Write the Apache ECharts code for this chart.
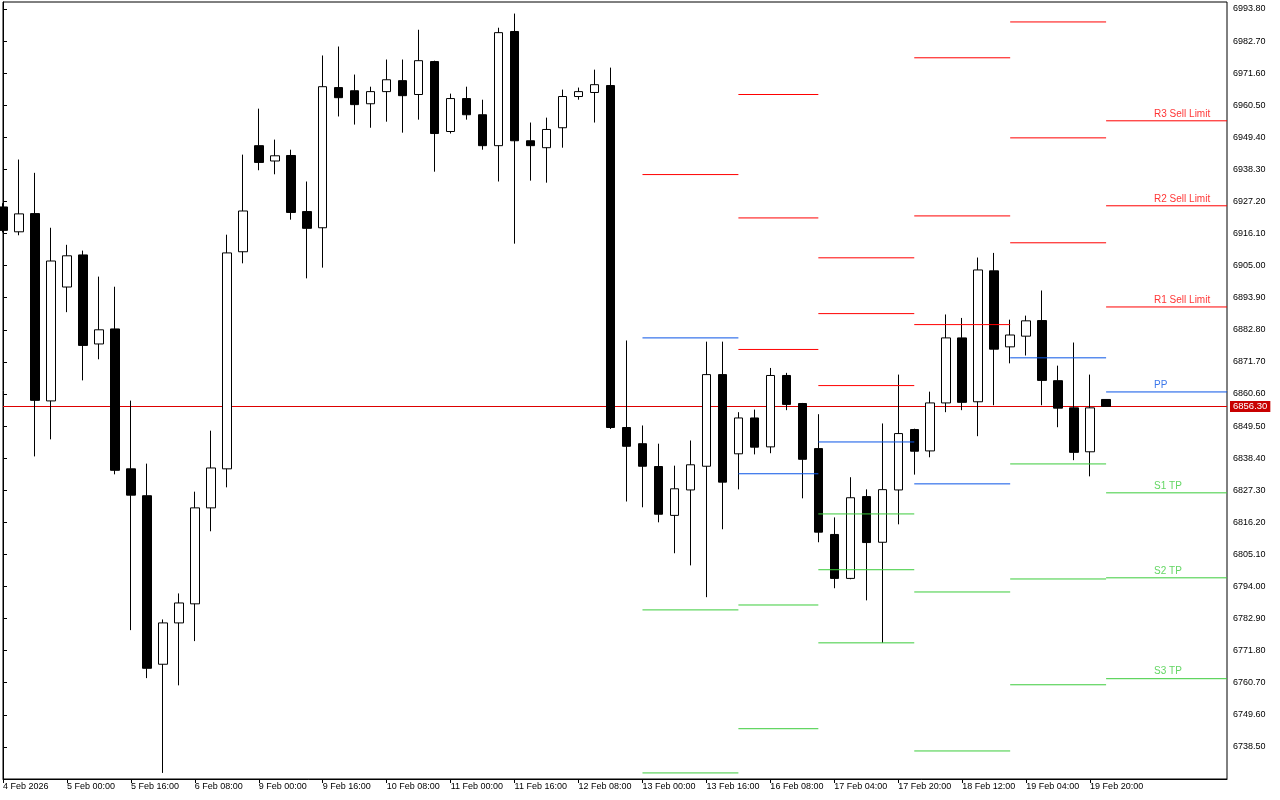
<!DOCTYPE html>
<html><head><meta charset="utf-8">
<script src="https://cdn.jsdelivr.net/npm/echarts@6/dist/echarts.min.js"></script>
<style>html,body{margin:0;padding:0;background:#fff}#c{width:1280px;height:800px}</style>
</head><body><div id="c"></div>
<script>
// H4 candles, 4 Feb 2026 08:00 .. 20 Feb 2026 00:00
const open = [6925.3,6916.7,6923.0,6858.2,6897.6,6908.7,6877.9,6883.1,6834.7,6825.4,
6767.1,6781.4,6788.0,6821.2,6834.7,6909.8,6946.5,6941.2,6943.1,6923.7,
6918.1,6966.6,6965.5,6961.0,6965.2,6969.0,6964.2,6975.6,6951.4,6962.8,
6957.2,6946.5,6986.0,6948.2,6945.8,6952.7,6963.5,6964.9,6967.3,6849.0,
6843.4,6835.5,6818.6,6827.4,6835.6,6867.3,6839.9,6852.3,6842.3,6867.0,
6857.3,6841.7,6812.0,6796.8,6825.1,6809.3,6827.4,6848.3,6840.9,6857.5,
6880.0,6857.9,6903.2,6876.9,6880.6,6886.0,6865.2,6855.8,6840.6,6858.7];
const high = [6926.6,6941.7,6937.1,6918.1,6912.2,6910.2,6901.2,6897.7,6858.3,6836.5,
6782.6,6791.6,6826.8,6847.9,6915.7,6943.4,6959.3,6948.6,6945.1,6934.1,
6977.7,6980.8,6971.1,6966.9,6976.3,6976.3,6986.6,6975.9,6964.5,6966.9,
6962.4,6987.3,6992.2,6954.5,6956.2,6965.9,6966.6,6972.8,6973.5,6879.1,
6849.7,6843.4,6835.8,6844.5,6878.7,6878.7,6854.3,6855.2,6869.6,6867.9,
6857.5,6853.6,6817.9,6831.8,6827.6,6850.4,6867.3,6848.6,6861.4,6888.1,
6886.9,6907.8,6909.4,6886.3,6887.7,6896.4,6870.4,6878.4,6867.3,6858.7];
const low = [6916.5,6915.5,6839.0,6844.9,6888.9,6865.3,6872.6,6832.8,6778.9,6762.3,
6729.5,6759.8,6775.1,6813.1,6828.3,6905.8,6938.0,6936.6,6920.9,6900.6,
6904.3,6956.6,6953.8,6952.7,6954.8,6951.0,6955.5,6937.5,6950.7,6955.5,
6945.1,6934.1,6912.6,6934.4,6933.7,6945.8,6962.4,6954.5,6848.5,6823.4,
6821.4,6816.2,6805.5,6801.3,6790.3,6813.8,6827.6,6839.7,6840.1,6855.0,
6824.5,6809.3,6793.4,6796.5,6789.2,6774.5,6815.5,6832.7,6838.7,6854.3,
6855.0,6846.0,6856.7,6871.2,6873.9,6856.7,6849.1,6837.7,6832.1,6856.3];
const close = [6917.2,6922.9,6858.4,6906.6,6908.4,6877.4,6882.8,6834.2,6825.6,6765.7,
6781.4,6788.3,6821.2,6835.0,6909.4,6923.9,6940.7,6943.0,6923.4,6917.9,
6966.9,6963.1,6960.7,6965.2,6969.3,6963.8,6975.9,6950.7,6962.8,6957.2,
6946.5,6985.6,6948.2,6946.5,6952.1,6963.5,6965.2,6967.6,6849.0,6842.5,
6835.6,6819.0,6827.8,6836.1,6867.3,6830.1,6852.3,6842.2,6867.0,6857.0,
6838.0,6812.8,6796.8,6824.7,6809.2,6827.5,6846.9,6840.8,6857.5,6880.0,
6857.7,6903.5,6876.1,6881.0,6885.9,6865.3,6855.7,6840.4,6855.8,6856.3];
const lastPrice = 6856.30;

// time axis tick labels (every 4th candle)
const xTickIdx = [0,4,8,12,16,20,24,28,32,36,40,44,48,52,56,60,64,68];
const xTickLabels = ['4 Feb 2026','5 Feb 00:00','5 Feb 16:00','6 Feb 08:00','9 Feb 00:00','9 Feb 16:00',
  '10 Feb 08:00','11 Feb 00:00','11 Feb 16:00','12 Feb 08:00','13 Feb 00:00','13 Feb 16:00',
  '16 Feb 08:00','17 Feb 04:00','17 Feb 20:00','18 Feb 12:00','19 Feb 04:00','19 Feb 20:00'];
const yTickValues = [6738.5,6749.6,6760.7,6771.8,6782.9,6794.0,6805.1,6816.2,6827.3,6838.4,6849.5,6860.6,
  6871.7,6882.8,6893.9,6905.0,6916.1,6927.2,6938.3,6949.4,6960.5,6971.6,6982.7,6993.8];

// daily pivot levels: 13, 16, 17, 18, 19, 20 Feb (start/end candle index)
const pivotDays = ['13 Feb','16 Feb','17 Feb','18 Feb','19 Feb','20 Feb'];
const pivotStart = [40,46,51,57,63,69];
const pivotEnd = [46,51,57,63,69,null]; // null = runs to the right edge
const R3 = [7087.1,6964.2,6907.7,6976.9,6989.3,6955.1];
const R2 = [7030.6,6921.5,6888.4,6922.2,6949.2,6925.7];
const R1 = [6936.5,6876.0,6863.5,6884.6,6912.9,6890.7];
const PP = [6880.0,6833.0,6844.0,6829.5,6873.1,6861.3];
const S1 = [6785.9,6787.6,6819.1,6792.1,6836.4,6826.4];
const S2 = [6729.5,6744.8,6799.8,6737.1,6796.6,6797.0];
const S3 = [6635.3,6699.2,6774.5,6699.5,6760.0,6762.1];
const levelNames = ['R3 Sell Limit','R2 Sell Limit','R1 Sell Limit','PP','S1 TP','S2 TP','S3 TP'];

const RED = '#ff0000', BLUE = '#0a55e6', GREEN = '#3ccc3c';
const levels = [R3,R2,R1,PP,S1,S2,S3];
const levelColors = [RED,RED,RED,BLUE,GREEN,GREEN,GREEN];

const X_MAX = 76.5625, Y_MIN = 6727.4, Y_MAX = 6996.2;
const FONT = 'Liberation Sans';

const chart = echarts.init(document.getElementById('c'), null, {renderer:'canvas'});

const candleData = open.map((o,i)=>[i, o, close[i], low[i], high[i]]);

const pivotSeries = levels.map((arr, li) => {
  const data = [];
  arr.forEach((v, d) => {
    const e = pivotEnd[d] == null ? X_MAX : pivotEnd[d];
    data.push([pivotStart[d], v], [e, v], ['-','-']);
  });
  return {
    type:'line', data, symbol:'none', silent:true, z:10, connectNulls:false,
    lineStyle:{color: levelColors[li], width:1}, animation:false
  };
});

const last = pivotStart.length - 1;
const labelSeries = {
  type:'scatter', symbolSize:0, silent:true, z:11, animation:false,
  data: levels.map((arr, li) => ({
    value:[72, arr[last]],
    label:{show:true, formatter: levelNames[li], position:[0,-2], align:'left', verticalAlign:'bottom',
      color: levelColors[li], fontSize:10, fontFamily: FONT}
  }))
};

chart.setOption({
  animation:false,
  backgroundColor:'#fff',
  grid:{left:2, right:53, top:2, bottom:21, show:true, borderColor:'#000', borderWidth:1, backgroundColor:'#fff'},
  xAxis:{
    type:'value', min:0, max:X_MAX,
    axisLine:{show:true, lineStyle:{color:'#000', width:1}},
    axisTick:{show:true, customValues: xTickIdx, length:4, lineStyle:{color:'#000'}},
    axisLabel:{show:true, customValues: xTickIdx, align:'left', margin:3, fontSize:9, fontFamily:FONT, color:'#000',
      hideOverlap:false,
      formatter:(v)=>{ const i = xTickIdx.indexOf(Math.round(v)); return i>=0 ? xTickLabels[i] : ''; }},
    splitLine:{show:false}
  },
  yAxis:{
    type:'value', position:'right', min:Y_MIN, max:Y_MAX, scale:true,
    axisLine:{show:true, lineStyle:{color:'#000', width:1}},
    axisTick:{show:true, customValues: yTickValues, length:4, lineStyle:{color:'#000'}},
    axisLabel:{show:true, customValues: yTickValues, margin:6, fontSize:9, fontFamily:FONT, color:'#000',
      formatter:(v)=>Number(v).toFixed(2)},
    splitLine:{show:false}
  },
  series:[
    {
      type:'line', data:[], z:1, silent:true, animation:false,
      markLine:{
        silent:true, symbol:['none','none'], animation:false,
        lineStyle:{color:'#dd0000', width:1, type:'solid'},
        label:{show:true, position:'end', distance:3, formatter: lastPrice.toFixed(2), color:'#fff',
          backgroundColor:'#c80000', padding:[1,3,0,3], fontSize:9.5, fontFamily:FONT},
        emphasis:{disabled:true},
        data:[{yAxis:lastPrice}]
      }
    },
    {
      type:'candlestick', data:candleData, z:5, silent:true, animation:false,
      encode:{x:0, y:[1,2,3,4]},
      barWidth:9,
      itemStyle:{color:'#fff', color0:'#000', borderColor:'#000', borderColor0:'#000', borderColorDoji:'#000', borderWidth:1}
    },
    ...pivotSeries,
    labelSeries
  ]
});
</script></body></html>
